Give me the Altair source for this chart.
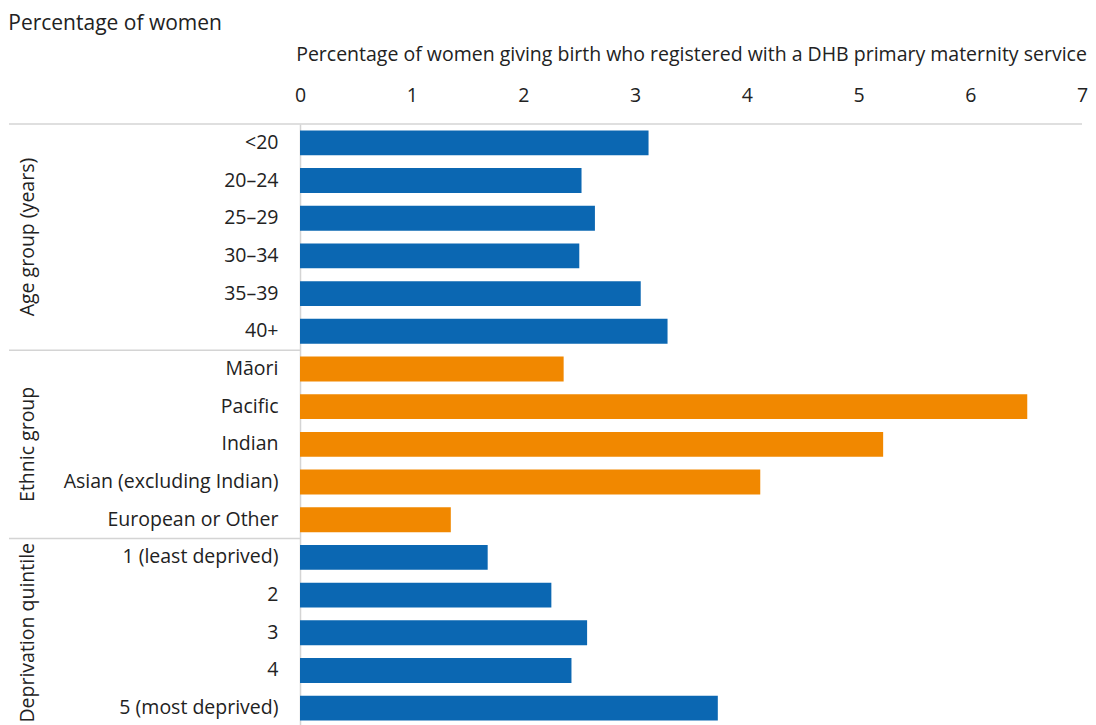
import altair as alt
import pandas as pd

categories = ["<20", "20–24", "25–29", "30–34", "35–39", "40+",
              "Māori", "Pacific", "Indian", "Asian (excluding Indian)", "European or Other",
              "1 (least deprived)", "2", "3", "4", "5 (most deprived)"]
values = [3.12, 2.52, 2.64, 2.50, 3.05, 3.29,
          2.36, 6.51, 5.22, 4.12, 1.35,
          1.68, 2.25, 2.57, 2.43, 3.74]
groups = ["Age group (years)"] * 6 + ["Ethnic group"] * 5 + ["Deprivation quintile"] * 5

group_names = ["Age group (years)", "Ethnic group", "Deprivation quintile"]
group_colors = ["#0b67b2", "#f18800", "#0b67b2"]
group_first = ["<20", "Māori", "1 (least deprived)"]

FONT = "Open Sans"
FS = 19.5
W, H = 782, 603

df = pd.DataFrame({"category": categories, "value": values, "group": groups})
gdf = pd.DataFrame({"group": group_names, "first": group_first})

yscale = alt.Scale(domain=categories, paddingInner=0, paddingOuter=0)

bars = alt.Chart(df).mark_bar(height={"band": 0.66}).encode(
    y=alt.Y("category:N", scale=yscale, sort=categories,
            axis=alt.Axis(title=None, labelFontSize=FS, labelFont=FONT, labelColor="#222",
                          labelPadding=22, ticks=False, domainColor="#d4d4d4",
                          domainWidth=1.5, labelLimit=400)),
    x=alt.X("value:Q", scale=alt.Scale(domain=[0, 7], nice=False),
            axis=alt.Axis(orient="top", values=list(range(8)), ticks=False, domain=False,
                          grid=False, labelFontSize=FS, labelFont=FONT, labelColor="#222",
                          labelPadding=19, labelFlush=False,
                          title="Percentage of women giving birth who registered with a DHB primary maternity service",
                          titleFontSize=FS, titleFont=FONT, titleFontWeight="normal",
                          titleColor="#222", titlePadding=21)),
    color=alt.Color("group:N", scale=alt.Scale(domain=group_names, range=group_colors), legend=None),
)

# separator rules (left side, at each group's first row boundary)
seps = alt.Chart(gdf).mark_rule(color="#d4d4d4", strokeWidth=1.5).encode(
    y=alt.Y("first:N", scale=yscale, sort=categories, bandPosition=0),
    x=alt.value(-291),
    x2=alt.value(0),
)
top_rule = alt.Chart(gdf.iloc[:1]).mark_rule(color="#d4d4d4", strokeWidth=1.5).encode(
    y=alt.Y("first:N", scale=yscale, sort=categories, bandPosition=0),
    x=alt.value(0),
    x2=alt.value(W),
)

age_lab = alt.Chart(pd.DataFrame({"group": ["Age group (years)"], "anchor": ["30–34"]})).mark_text(
    angle=270, align="center", baseline="middle", fontSize=FS, font=FONT, color="#222"
).encode(
    y=alt.Y("anchor:N", scale=yscale, sort=categories, bandPosition=0),
    x=alt.value(-272),
    text="group:N",
)
other_lab = alt.Chart(pd.DataFrame({"group": ["Ethnic group", "Deprivation quintile"],
                                    "anchor": ["Indian", "3"]})).mark_text(
    angle=270, align="center", baseline="middle", fontSize=FS, font=FONT, color="#222"
).encode(
    y=alt.Y("anchor:N", scale=yscale, sort=categories, bandPosition=0.5),
    x=alt.value(-272),
    text="group:N",
)

chart = alt.layer(bars, seps, top_rule, age_lab, other_lab).properties(
    width=W, height=H, background="white",
    padding={"left": 0, "top": 5, "right": 0, "bottom": 0},
    title=alt.Title("Percentage of women", anchor="start", frame="bounds", fontSize=21,
                    font=FONT, fontWeight="normal", color="#222", offset=10),
).configure_view(strokeWidth=0)

chart.save("out.html", embed_options={"renderer": "svg", "actions": False})
